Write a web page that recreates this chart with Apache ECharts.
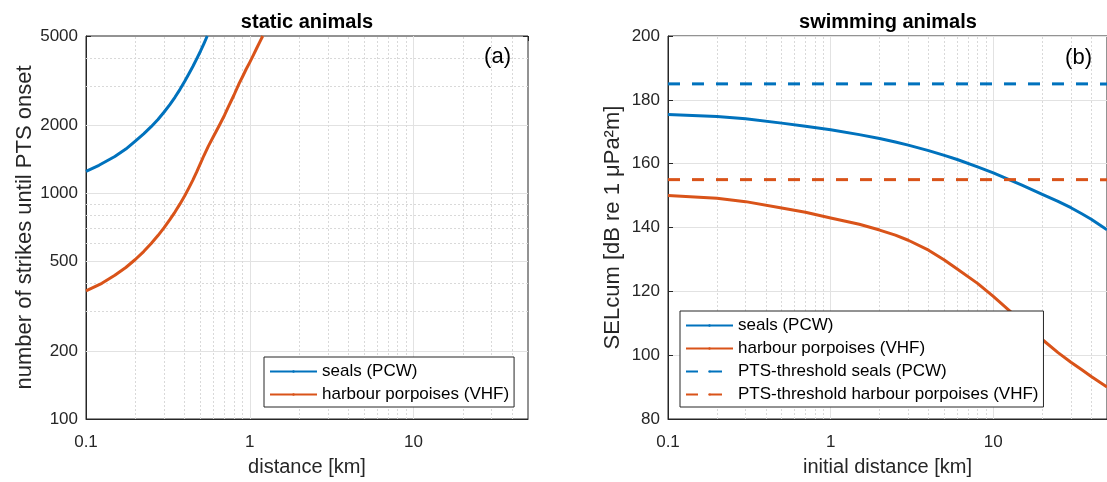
<!DOCTYPE html>
<html><head><meta charset="utf-8">
<script src="https://cdn.jsdelivr.net/npm/echarts@6/dist/echarts.min.js"></script>
<style>html,body{margin:0;padding:0;background:#fff}#c{width:1107px;height:482px}</style>
</head><body><div id="c"></div>
<script>
const FONT = '"Liberation Sans", Arial, Helvetica, sans-serif';
const TXT = '#262626';
const BLUE = '#0072BD', ORANGE = '#D95319';

// ---- panel (a): static animals ----
const staticSealDist    = [0.1, 0.12, 0.15, 0.175, 0.2, 0.225, 0.25, 0.275, 0.3, 0.325, 0.35, 0.375, 0.4, 0.425, 0.45, 0.475, 0.5, 0.525, 0.55];
const staticSealStrikes = [1255, 1335, 1460, 1575, 1710, 1840, 1980, 2130, 2300, 2480, 2680, 2900, 3140, 3400, 3670, 3970, 4280, 4630, 5000];
const staticPorpDist    = [0.1, 0.125, 0.15, 0.175, 0.2, 0.225, 0.25, 0.275, 0.3, 0.325, 0.35, 0.375, 0.4, 0.425, 0.45, 0.475, 0.5, 0.525, 0.558,
                           0.6, 0.65, 0.7, 0.741, 0.8, 0.863, 0.9, 0.95, 1.0, 1.05, 1.1, 1.15, 1.2];
const staticPorpStrikes = [370, 400, 434, 470, 510, 553, 600, 651, 706, 766, 830, 900, 975, 1060, 1150, 1250, 1360, 1475, 1620,
                           1790, 2000, 2220, 2430, 2730, 3088, 3280, 3560, 3820, 4100, 4400, 4700, 5000];

// ---- panel (b): swimming animals ----
const swimSealDist = [0.1, 0.2, 0.3, 0.5, 0.7, 1, 1.5, 2, 2.5, 3, 4, 5, 6, 8, 10, 12.5, 15, 20, 25, 30, 35, 40, 50];
const swimSealSEL  = [175.4, 174.8, 174.1, 172.7, 171.7, 170.6, 169.1, 167.9, 166.8, 165.8, 164.1, 162.6, 161.3, 159.0, 157.1, 155.0, 153.3, 150.4, 148.2, 146.2, 144.3, 142.6, 139.3];
const swimPorpDist = [0.1, 0.2, 0.3, 0.5, 0.7, 1, 1.5, 2, 2.5, 3, 4, 5, 6, 8, 10, 12.5, 15, 20, 25, 30, 35, 40, 50];
const swimPorpSEL  = [150.0, 149.2, 148.1, 146.1, 144.8, 143.0, 141.0, 139.2, 137.6, 136.0, 132.9, 129.8, 127.0, 122.5, 118.4, 114.0, 110.5, 104.9, 100.8, 97.8, 95.4, 93.3, 90.0];
const ptsSeal = 185, ptsPorp = 155;

// ---- axes / ticks ----
const xRange = [0.1, 50];
const yRangeA = [100, 5000];
const yRangeB = [80, 200];
const yTicksA = [100, 200, 500, 1000, 2000, 5000];
const xMajorGrid = [1, 10];
const xMinorGrid = [0.2, 0.3, 0.4, 0.5, 0.6, 0.7, 0.8, 0.9, 2, 3, 4, 5, 6, 7, 8, 9, 20, 30, 40];
const yMajorGridA = [200, 500, 1000, 2000];
const yMinorGridA = [300, 400, 600, 700, 800, 900, 3000, 4000];

const nSeal = 'seals (PCW)', nPorp = 'harbour porpoises (VHF)';
const nPtsSeal = 'PTS-threshold seals (PCW)', nPtsPorp = 'PTS-threshold harbour porpoises (VHF)';

const zip = (a, b) => a.map((v, i) => [v, b[i]]);
const plain = v => String(Math.round(v * 1000) / 1000);

const chart = echarts.init(document.getElementById('c'), null, {renderer: 'canvas'});

const tickStyle = {show: true, inside: true, length: 5, lineStyle: {color: TXT}};

function xAxisDef(grid, name) {
  return {
    type: 'log', logBase: 10, gridIndex: grid, min: xRange[0], max: xRange[1],
    name: name, nameLocation: 'middle', nameGap: 38,
    nameTextStyle: {fontSize: 20, color: TXT, fontFamily: FONT},
    axisLine: {show: true, lineStyle: {color: TXT, width: 1}},
    axisTick: tickStyle,
    axisLabel: {fontSize: 17, color: TXT, fontFamily: FONT, margin: 15, showMaxLabel: false, formatter: plain},
    splitLine: {show: false}
  };
}
function xMirror(grid) {
  return {
    type: 'log', logBase: 10, gridIndex: grid, min: xRange[0], max: xRange[1], position: 'top',
    axisLine: {show: false}, axisTick: tickStyle, axisLabel: {show: false}, splitLine: {show: false}
  };
}
const axLbl = {fontSize: 17, color: TXT, fontFamily: FONT, margin: 8, formatter: plain};

function gridSeries(xi, yi, majorX, minorX, majorY, minorY) {
  const mk = [];
  majorX.forEach(v => mk.push({xAxis: v, lineStyle: {color: '#e2e2e2', type: 'solid', width: 1}}));
  majorY.forEach(v => mk.push({yAxis: v, lineStyle: {color: '#e2e2e2', type: 'solid', width: 1}}));
  minorX.forEach(v => mk.push({xAxis: v, lineStyle: {color: '#d9d9d9', type: [2, 2], width: 1}}));
  minorY.forEach(v => mk.push({yAxis: v, lineStyle: {color: '#d9d9d9', type: [2, 2], width: 1}}));
  return {
    type: 'line', name: '_grid' + xi, xAxisIndex: xi, yAxisIndex: yi, data: [], z: 1,
    markLine: {silent: true, symbol: ['none', 'none'], label: {show: false}, animation: false, z: 1, data: mk}
  };
}

function lineSeries(name, xi, yi, data, color, dashed) {
  return {
    type: 'line', name: name, xAxisIndex: xi, yAxisIndex: yi, data: data,
    showSymbol: false, symbol: 'none', smooth: false,
    lineStyle: {color: color, width: 3, type: dashed ? [12, 12] : 'solid', join: 'round', cap: 'butt'},
    itemStyle: {color: color}, z: 3, clip: true
  };
}

const legendBase = {
  orient: 'vertical', itemWidth: 47, itemHeight: 3, itemGap: 6,
  borderColor: TXT, borderWidth: 1, backgroundColor: '#fff', borderRadius: 0,
  textStyle: {fontSize: 17, color: '#000', fontFamily: FONT},
  z: 10
};

const option = {
  animation: false,
  backgroundColor: '#fff',
  title: [
    {text: 'static animals', left: 307, top: 12, textAlign: 'center', padding: 0,
     textStyle: {fontSize: 20, fontWeight: 'bold', color: '#000', fontFamily: FONT}},
    {text: 'swimming animals', left: 888, top: 12, textAlign: 'center', padding: 0,
     textStyle: {fontSize: 20, fontWeight: 'bold', color: '#000', fontFamily: FONT}},
    {text: '(a)', left: 511, top: 46, textAlign: 'right', padding: 0,
     textStyle: {fontSize: 22, fontWeight: 'normal', color: '#000', fontFamily: FONT}},
    {text: '(b)', left: 1092, top: 47, textAlign: 'right', padding: 0,
     textStyle: {fontSize: 22, fontWeight: 'normal', color: '#000', fontFamily: FONT}}
  ],
  grid: [
    {left: 86, top: 36, width: 442, height: 384, show: true, borderColor: TXT, borderWidth: 1, backgroundColor: 'transparent', containLabel: false},
    {left: 668, top: 36, width: 442, height: 384, show: true, borderColor: TXT, borderWidth: 1, backgroundColor: 'transparent', containLabel: false}
  ],
  xAxis: [
    xAxisDef(0, 'distance [km]'),
    xAxisDef(1, 'initial distance [km]'),
    xMirror(0),
    xMirror(1)
  ],
  yAxis: [
    {
      type: 'log', logBase: 10, gridIndex: 0, min: yRangeA[0], max: yRangeA[1],
      name: 'number of strikes until PTS onset', nameLocation: 'middle', nameGap: 41,
      nameTextStyle: {fontSize: 22, color: TXT, fontFamily: FONT},
      axisLine: {show: true, lineStyle: {color: TXT}},
      axisTick: Object.assign({customValues: yTicksA}, tickStyle),
      axisLabel: Object.assign({customValues: yTicksA}, axLbl),
      splitLine: {show: false}
    },
    {
      type: 'value', gridIndex: 1, min: yRangeB[0], max: yRangeB[1], interval: 20,
      name: 'SELcum [dB re 1 μPa²m]', nameLocation: 'middle', nameGap: 44,
      nameTextStyle: {fontSize: 22, color: TXT, fontFamily: FONT},
      axisLine: {show: true, lineStyle: {color: TXT}},
      axisTick: tickStyle,
      axisLabel: axLbl,
      splitLine: {show: true, lineStyle: {color: '#e2e2e2', width: 1}}
    },
    {
      type: 'log', logBase: 10, gridIndex: 0, min: yRangeA[0], max: yRangeA[1], position: 'right',
      axisLine: {show: false},
      axisTick: Object.assign({customValues: yTicksA}, tickStyle),
      axisLabel: {show: false}, splitLine: {show: false}
    }
  ],
  legend: [
    Object.assign({}, legendBase, {left: 264, top: 357, padding: [6, 5, 4, 5], data: [nSeal, nPorp]}),
    Object.assign({}, legendBase, {left: 680, top: 311, padding: [6, 5, 4, 5], data: [nSeal, nPorp, nPtsSeal, nPtsPorp]})
  ],
  series: [
    gridSeries(0, 0, xMajorGrid, xMinorGrid, yMajorGridA, yMinorGridA),
    gridSeries(1, 1, xMajorGrid, xMinorGrid, [], []),
    lineSeries(nSeal, 0, 0, zip(staticSealDist, staticSealStrikes), BLUE, false),
    lineSeries(nPorp, 0, 0, zip(staticPorpDist, staticPorpStrikes), ORANGE, false),
    lineSeries(nSeal, 1, 1, zip(swimSealDist, swimSealSEL), BLUE, false),
    lineSeries(nPorp, 1, 1, zip(swimPorpDist, swimPorpSEL), ORANGE, false),
    lineSeries(nPtsSeal, 1, 1, zip(xRange, [ptsSeal, ptsSeal]), BLUE, true),
    lineSeries(nPtsPorp, 1, 1, zip(xRange, [ptsPorp, ptsPorp]), ORANGE, true)
  ]
};
chart.setOption(option);
</script></body></html>
